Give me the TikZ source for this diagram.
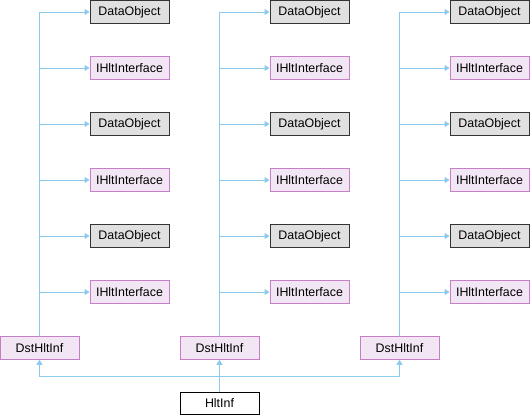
\documentclass[tikz,border=0pt]{standalone}
\usepackage{fontspec}
\setmainfont{Liberation Sans}
\usetikzlibrary{arrows.meta,positioning}
\definecolor{dxEdge}{HTML}{8CCBEE}
\definecolor{dxGray}{HTML}{E0E0E0}
\definecolor{dxPinkFill}{HTML}{F3E6F4}
\definecolor{dxPinkLine}{HTML}{C47FC6}
\tikzset{
  dxnode/.style={
    draw, minimum width=79pt, minimum height=22.5pt, inner sep=0pt,
    line width=1pt, font=\fontsize{12.4}{14}\selectfont
  },
  dataobj/.style={dxnode, fill=dxGray, draw=black!80},
  iface/.style={dxnode, fill=dxPinkFill, draw=dxPinkLine},
  derived/.style={iface},
  leaf/.style={dxnode, fill=white, draw=black},
  inherit/.style={-{Triangle[length=5pt,width=6pt]}, line width=1pt, dxEdge}
}
\begin{document}
\begin{tikzpicture}[x=1pt,y=-1pt]
  \useasboundingbox (0,0) rectangle (530,416);
  \node[leaf] (hlt) at (219.5,403.5) {HltInf};
  \foreach \c/\x in {1/0,2/180,3/360}{
    \node[derived] (dst\c) at (\x+39.5,348) {DstHltInf};
    \foreach \r in {1,...,6}{
      \pgfmathsetmacro{\yy}{12+56*(\r-1)}
      \ifodd\r
        \node[dataobj] (b\c\r) at (\x+129.5,\yy) {DataObject};
      \else
        \node[iface] (b\c\r) at (\x+129.5,\yy) {IHltInterface};
      \fi
      \draw[inherit] (dst\c.north) |- (b\c\r.west);
    }
    \draw[inherit] (hlt.north) -- ++(0,-15.5) -| (dst\c.south);
  }
\end{tikzpicture}
\end{document}
